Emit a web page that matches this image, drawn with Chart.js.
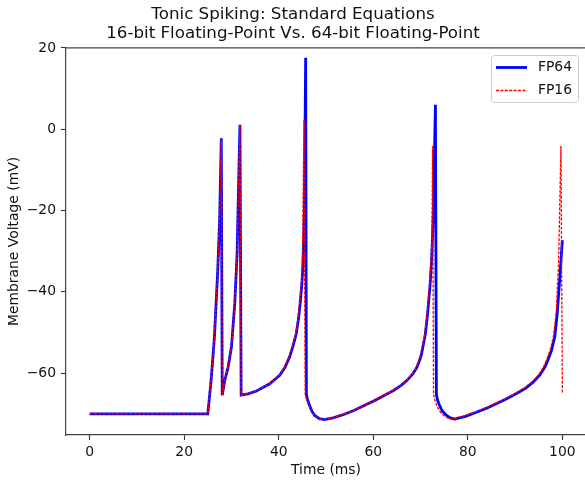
<!DOCTYPE html>
<html>
<head>
<meta charset="utf-8">
<script src="https://cdn.jsdelivr.net/npm/chart.js@4.4.0/dist/chart.umd.min.js"></script>
<style>
html, body { margin: 0; padding: 0; background: #fff; overflow: hidden; }
#wrap { width: 590px; height: 484px; }
</style>
</head>
<body>
<div id="wrap"><canvas id="myChart"></canvas></div>
<script>
const titleLines = ["Tonic Spiking: Standard Equations", "16-bit Floating-Point Vs. 64-bit Floating-Point"]
const xTicks = [0, 20, 40, 60, 80, 100]
const yTicks = [-60, -40, -20, 0, 20]

// FP64 trace (time ms, membrane voltage mV)
const t64 = [0, 25, 25.7, 26.4, 27.1, 27.5, 27.85, 28.05, 28.6, 29.3, 30.0, 30.7, 31.2, 31.5, 31.8, 32.05,
  33.5, 35.3, 38.1, 40.2, 41.3, 42.3, 43.0, 43.7, 44.2, 44.6, 44.9, 45.1, 45.3, 45.4, 45.7, 45.85, 46.1, 46.5,
  47.0, 47.6, 48.6, 49.7, 51.5, 53.9, 56.0, 58.2, 60.3, 62.4, 64.2, 65.9, 67.2, 68.4, 69.2, 69.8, 70.2, 70.5,
  71.0, 71.5, 72.0, 72.3, 72.5, 72.7, 73.15, 73.35, 73.6, 74.0, 74.6, 75.5, 76.3, 77.2, 79.5, 81.8, 84.0,
  86.0, 88.2, 90.3, 92.2, 93.8, 95.2, 96.3, 97.0, 97.7, 98.4, 98.9, 99.4, 100]
const v64 = [-70, -70, -61.7, -51.1, -34.7, -22.3, -2.2, -65.4, -61.7, -58.5, -53.5, -42.9, -30.5, -14.1, 1.1, -65.4,
  -65.1, -64.4, -62.6, -60.5, -58.6, -56.0, -53.4, -50.3, -46.5, -42.0, -38.0, -33.8, -26.5, -21.5, 17.6, -65.2, -66.5, -67.9,
  -69.3, -70.4, -71.2, -71.4, -71.0, -70.1, -69.1, -67.9, -66.7, -65.4, -64.3, -63.0, -61.7, -60.1, -58.6, -56.8, -55.3, -53.5,
  -50.5, -45.3, -38.5, -33.0, -27.5, -20.7, 6.0, -65.2, -66.6, -67.9, -69.3, -70.4, -71.0, -71.3, -70.6, -69.6, -68.6,
  -67.5, -66.3, -65.0, -63.7, -62.2, -60.5, -58.5, -56.6, -54.4, -51.0, -45.5, -37.5, -27.3]

// FP16 trace
const t16 = [0, 25, 25.7, 26.4, 27.1, 27.5, 27.85, 28.05, 28.6, 29.3, 30.0, 30.7, 31.2, 31.5, 31.8, 32.05,
  33.5, 35.3, 38.1, 40.1, 41.2, 42.2, 42.9, 43.6, 44.1, 44.5, 44.8, 45.0, 45.35, 45.6, 45.9, 46.4, 46.9,
  47.5, 48.5, 49.6, 51.4, 53.8, 55.9, 58.1, 60.2, 62.3, 64.1, 65.8, 67.1, 68.3, 69.1, 69.7, 70.1, 70.4,
  70.9, 71.4, 71.9, 72.2, 72.4, 72.55, 72.75, 73.0, 73.4, 74.0, 74.9, 75.7, 76.6, 79.0, 81.4, 83.6,
  85.7, 87.9, 90.0, 91.9, 93.5, 94.9, 96.0, 96.7, 97.4, 98.1, 98.7, 99.2, 99.7, 100]
const v16 = [-70, -70, -61.7, -51.1, -34.7, -22.3, -2.2, -65.4, -61.7, -58.5, -53.5, -42.9, -30.5, -14.1, 1.1, -65.4,
  -65.1, -64.4, -62.6, -60.5, -58.6, -56.0, -53.4, -50.3, -46.5, -42.0, -38.0, -33.0, 2.3, -65.3, -66.5, -67.9, -69.3,
  -70.4, -71.2, -71.4, -71.0, -70.1, -69.1, -67.9, -66.7, -65.4, -64.3, -63.0, -61.7, -60.1, -58.6, -56.8, -55.3, -53.5,
  -50.5, -45.3, -38.5, -33.0, -27.5, -4.1, -65.0, -66.6, -67.9, -69.3, -70.4, -71.0, -71.3, -70.6, -69.6, -68.6,
  -67.5, -66.3, -65.0, -63.7, -62.2, -60.5, -58.5, -56.6, -54.4, -51.0, -45.0, -33.0, -4.1, -65.0]

const font = "'DejaVu Sans', sans-serif"
const minus = v => String(v).replace('-', '\u2212')

// top spine plus a matplotlib style legend box
const frameAndLegend = {
  id: 'frameAndLegend',
  afterDatasetsDraw(chart) {
    const {ctx, chartArea: a} = chart
    ctx.save()
    ctx.strokeStyle = '#444'
    ctx.lineWidth = 1.2
    ctx.beginPath()
    ctx.moveTo(a.left, a.top)
    ctx.lineTo(a.right, a.top)
    ctx.stroke()

    const w = 87, h = 47
    const x0 = Math.round(a.right - 8 - w), y0 = Math.round(a.top + 7)
    ctx.fillStyle = 'rgba(255,255,255,0.8)'
    ctx.strokeStyle = '#cccccc'
    ctx.lineWidth = 1
    ctx.beginPath()
    ctx.roundRect(x0 + 0.5, y0 + 0.5, w, h, 3)
    ctx.fill()
    ctx.stroke()

    ctx.font = '13.9px ' + font
    ctx.textBaseline = 'middle'
    chart.data.datasets.forEach((ds, i) => {
      const y = Math.round(y0 + 12 + i * 22.6) + 0.5
      ctx.strokeStyle = ds.borderColor
      ctx.lineWidth = ds.borderWidth
      ctx.setLineDash(ds.borderDash || [])
      ctx.beginPath()
      ctx.moveTo(x0 + 5, y)
      ctx.lineTo(x0 + 36, y)
      ctx.stroke()
      ctx.setLineDash([])
      ctx.fillStyle = '#111'
      ctx.fillText(ds.label, x0 + 47, y)
    })
    ctx.restore()
  }
}

new Chart("myChart", {
  type: "line",
  data: {
    datasets: [{
      label: "FP64",
      data: t64.map((t, i) => ({x: t, y: v64[i]})),
      borderColor: "#0000ff",
      backgroundColor: "#0000ff",
      borderWidth: 2.8,
      pointRadius: 0,
      fill: false,
      tension: 0,
      order: 1
    }, {
      label: "FP16",
      data: t16.map((t, i) => ({x: t, y: v16[i]})),
      borderColor: "#ff0000",
      backgroundColor: "#ff0000",
      borderWidth: 1.3,
      borderDash: [3, 1.4],
      pointRadius: 0,
      fill: false,
      tension: 0,
      order: 0
    }]
  },
  options: {
    responsive: true,
    maintainAspectRatio: false,
    animation: false,
    layout: {padding: {left: 0, right: 4, top: 0, bottom: 0}},
    plugins: {
      legend: {display: false},
      tooltip: {enabled: false},
      title: {
        display: true,
        text: titleLines,
        color: '#111',
        font: {family: font, size: 16.7, weight: 'normal', lineHeight: 1.12},
        padding: {top: 5.5, bottom: 5}
      }
    },
    scales: {
      x: {
        type: 'linear',
        min: -5,
        max: 105,
        afterBuildTicks: s => { s.ticks = xTicks.map(v => ({value: v})) },
        afterFit: s => { s.height = 49 },
        grid: {display: true, drawOnChartArea: false, drawTicks: true, tickLength: 5, tickColor: '#333', tickWidth: 1.1},
        border: {display: true, color: '#444', width: 1.2},
        ticks: {color: '#111', padding: 4, maxRotation: 0, font: {family: font, size: 13.9}, callback: v => minus(v)},
        title: {display: true, text: 'Time (ms)', color: '#111', font: {family: font, size: 13.9, lineHeight: 1.2}, padding: {top: 0, bottom: 5.6}}
      },
      y: {
        type: 'linear',
        min: -75.2,
        max: 20,
        afterBuildTicks: s => { s.ticks = yTicks.map(v => ({value: v})) },
        afterFit: s => { s.width = 66 },
        grid: {display: true, drawOnChartArea: false, drawTicks: true, tickLength: 5, tickColor: '#333', tickWidth: 1.1},
        border: {display: true, color: '#444', width: 1.2},
        ticks: {color: '#111', padding: 5, font: {family: font, size: 13.9}, callback: v => minus(v)},
        title: {display: true, text: 'Membrane Voltage (mV)', color: '#111', font: {family: font, size: 13.9, lineHeight: 1.2}, padding: {top: 5.6, bottom: 0}}
      }
    }
  },
  plugins: [frameAndLegend]
})
</script>
</body>
</html>
